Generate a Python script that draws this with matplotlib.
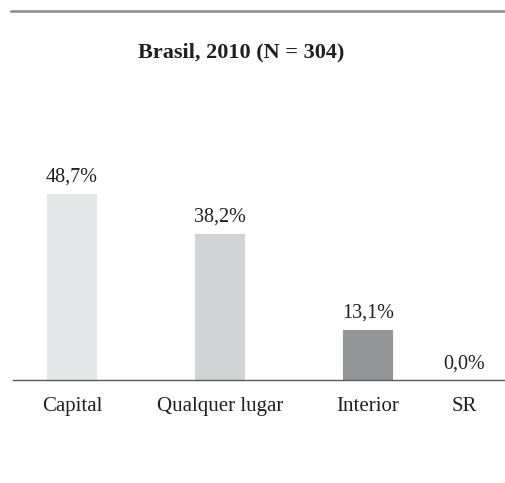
import matplotlib.pyplot as plt
from matplotlib.lines import Line2D

# ---------- DATA ----------
categories = ["Capital", "Qualquer lugar", "Interior", "SR"]
values = [48.7, 38.2, 13.1, 0.0]
title = "Brasil, 2010 (N = 304)"

# ---------- STYLE ----------
bar_colors = ["#e6e7e8", "#d1d3d4", "#939598", "#939598"]
x_pos = [0, 1, 2, 2.65]
plt.rcParams["font.family"] = ["Liberation Serif", "DejaVu Serif"]

W, H = 505, 483
fig = plt.figure(figsize=(W / 100, H / 100), dpi=100)

# axes from x=13..505 px, baseline at y=380 px
ax = fig.add_axes([13 / W, (H - 380) / H, 1 - 13 / W, 229.6 / H])
ax.bar(x_pos, values, width=50 / 148, color=bar_colors, zorder=2)
ax.set_xlim(-59 / 148, 433 / 148)
ax.set_ylim(0, 60)

for x, v in zip(x_pos, values):
    ax.annotate(f"{v:.1f}%".replace(".", ","), (x, v), xytext=(0, 5),
                textcoords="offset points", ha="center", va="bottom",
                fontsize=14.5, color="#231f20")

ax.set_xticks(x_pos)
ax.set_xticklabels(categories, fontsize=15, color="#231f20")
ax.tick_params(axis="x", length=0, pad=12)
ax.set_yticks([])
for s in ["top", "right", "left"]:
    ax.spines[s].set_visible(False)
ax.spines["bottom"].set_color("#58595b")
ax.spines["bottom"].set_linewidth(1.0)

# top rule and title
fig.add_artist(Line2D([11 / W, 1], [1 - 11 / H, 1 - 11 / H],
                      color="#8a8a8a", linewidth=1.8))
fig.text(241 / W, 1 - 52 / H, title, ha="center", va="center",
         fontsize=16, fontweight="bold", color="#231f20")

fig.savefig("out.png", dpi=100)
